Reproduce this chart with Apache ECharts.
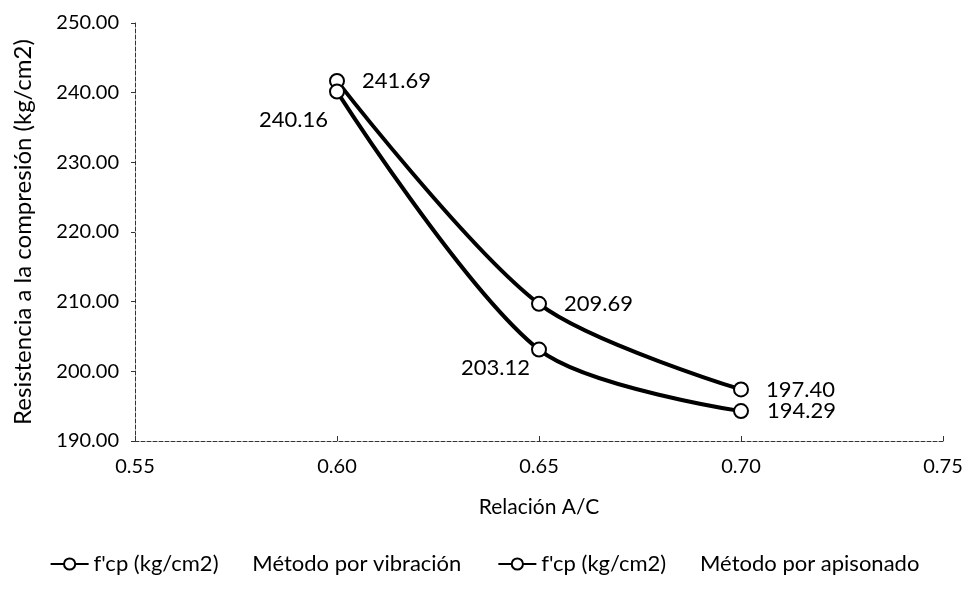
<!DOCTYPE html>
<html><head><meta charset="utf-8">
<script src="https://cdn.jsdelivr.net/npm/echarts@6/dist/echarts.min.js"></script>
<style>html,body{margin:0;padding:0;background:#fff}#c{width:969px;height:592px}</style>
</head><body><div id="c"></div>
<script>
const xValues = [0.60, 0.65, 0.70];
const vibracion = [241.69, 209.69, 197.40];
const apisonado = [240.16, 203.12, 194.29];
const seriesNames = ["f'cp (kg/cm2)      Método por vibración", "f'cp (kg/cm2)      Método por apisonado"];
const apisonadoLabelSide = ['left', 'left', 'right'];

const FONT = 'Lato';
const chart = echarts.init(document.getElementById('c'));
function pts(vals){ return xValues.map((x,i)=>[x, vals[i]]); }
const lblStyle = {show:true, color:'#000', fontSize:22, fontFamily:FONT, formatter:p=>p.value[1].toFixed(2)};
const leftOffsets = [[0,28],[0,18]];
chart.setOption({
  animation:false,
  textStyle:{fontFamily:FONT},
  grid:{left:135, right:26, top:23, bottom:151},
  xAxis:{type:'value', min:0.55, max:0.75, interval:0.05,
    name:'Relación A/C', nameLocation:'middle', nameGap:56,
    nameTextStyle:{fontSize:21, color:'#000', fontFamily:FONT},
    axisLine:{lineStyle:{color:'#333', type:'dashed', width:1}},
    axisTick:{show:true, inside:true, length:5, lineStyle:{color:'#333'}},
    axisLabel:{color:'#000', fontSize:20, margin:16, fontFamily:FONT, formatter:v=>v.toFixed(2)},
    splitLine:{show:false}},
  yAxis:{type:'value', min:190, max:250, interval:10,
    name:'Resistencia a la compresión (kg/cm2)', nameLocation:'middle', nameGap:100, nameRotate:90,
    nameTextStyle:{fontSize:24, color:'#000', fontFamily:FONT},
    axisLine:{show:true, lineStyle:{color:'#333', type:'dashed', width:1}},
    axisTick:{show:true, length:4, lineStyle:{color:'#333'}},
    axisLabel:{color:'#000', fontSize:20, margin:16, fontFamily:FONT, formatter:v=>v.toFixed(2)},
    splitLine:{show:false}},
  legend:{bottom:12, left:'center', itemWidth:38, itemHeight:14, itemGap:36,
    textStyle:{fontSize:22, color:'#000', fontFamily:FONT}},
  series:[
    {name:seriesNames[0], type:'line', smooth:0.3, data:pts(vibracion),
     symbol:'circle', symbolSize:14,
     itemStyle:{color:'#fff', borderColor:'#000', borderWidth:2},
     lineStyle:{color:'#000', width:4},
     label:Object.assign({}, lblStyle, {position:'right', distance:17})},
    {name:seriesNames[1], type:'line', smooth:0.3,
     data:pts(apisonado).map((d,i)=>({value:d, label: apisonadoLabelSide[i]==='right' ? {position:'right', distance:18} : {position:'left', offset:leftOffsets[i], distance:1}})),
     symbol:'circle', symbolSize:14,
     itemStyle:{color:'#fff', borderColor:'#000', borderWidth:2},
     lineStyle:{color:'#000', width:4},
     label:Object.assign({}, lblStyle)}
  ]
});
</script></body></html>
